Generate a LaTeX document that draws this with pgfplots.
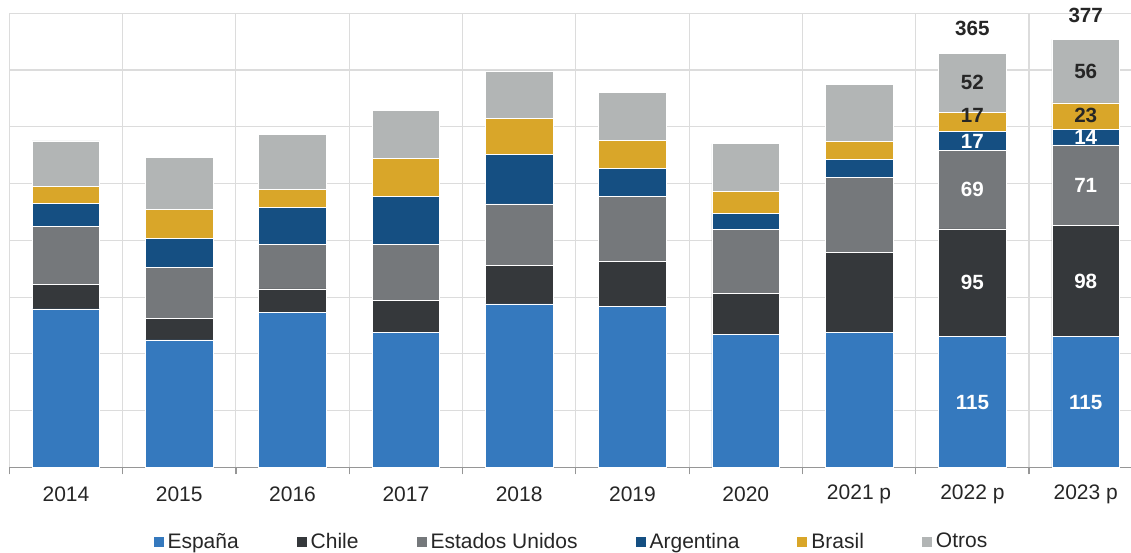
\documentclass[border=0pt]{standalone}
\usepackage{pgfplots}
\pgfplotsset{compat=1.18}
\usepackage{fontspec}
\setmainfont{Liberation Sans}
\definecolor{cEsp}{RGB}{53,121,190}
\definecolor{cChi}{RGB}{53,56,59}
\definecolor{cEEUU}{RGB}{117,120,123}
\definecolor{cArg}{RGB}{21,79,130}
\definecolor{cBra}{RGB}{217,166,41}
\definecolor{cOtr}{RGB}{178,181,181}
\definecolor{gridc}{RGB}{220,220,220}
\definecolor{axc}{RGB}{150,150,150}
\definecolor{txt}{RGB}{38,38,38}
\begin{document}
\begin{tikzpicture}
\pgfplotsset{
  base/.style={
    scale only axis, width=560.85bp, height=227bp,
    xmin=-0.5, xmax=9.4, ymin=0, ymax=400,
  }
}
\begin{axis}[base,
  ybar stacked, bar width=0.597,
  axis x line*=bottom, axis y line*=left,
  y axis line style={draw=none},
  x axis line style={draw=axc, line width=0.6bp},
  /pgf/number format/assume math mode=true,
  ytick={0,50,...,400}, yticklabels={},
  major y tick style={draw=none},
  ymajorgrids, xminorgrids,
  grid style={draw=gridc, line width=0.55bp},
  minor grid style={draw=gridc, line width=0.55bp},
  xtick={0,...,9},
  xticklabels={2014,2015,2016,2017,2018,2019,2020,2021 p,2022 p,2023 p},
  major x tick style={draw=none},
  minor xtick={-0.5,0.5,1.5,2.5,3.5,4.5,5.5,6.5,7.5,8.5},
  minor x tick style={draw=axc, line width=0.6bp},
  minor tick length=3.5bp,
  tick align=outside,
  xticklabel style={font=\fontsize{10.5bp}{12bp}\selectfont, text=txt, anchor=center, yshift=-9.35bp},
  legend style={at={(axis description cs:0.502,-0.1645)}, anchor=center,
    draw=none, fill=none, font=\fontsize{10.5bp}{12bp}\selectfont, text=txt,
    legend columns=6,
    /tikz/every even column/.append style={column sep=27bp}},
  legend image code/.code={\fill[#1,draw=none] (0bp,-2.5bp) rectangle (5bp,2.5bp);},
]
\addplot[fill=cEsp, draw=white, line width=0.3bp] coordinates {(0,139.5)(1,112.2)(2,136.6)(3,118.6)(4,143.9)(5,141.9)(6,116.8)(7,118.9)(8,115)(9,115)};
\addplot[fill=cChi, draw=white, line width=0.3bp] coordinates {(0,21.7)(1,19.3)(2,20.5)(3,28.2)(4,34.3)(5,39.3)(6,36.2)(7,70.2)(8,95)(9,98)};
\addplot[fill=cEEUU, draw=white, line width=0.3bp] coordinates {(0,51.4)(1,44.7)(2,39.0)(3,49.9)(4,53.8)(5,57.6)(6,56.3)(7,66.4)(8,69)(9,71)};
\addplot[fill=cArg, draw=white, line width=0.3bp] coordinates {(0,19.7)(1,25.3)(2,33.2)(3,41.7)(4,44.0)(5,24.9)(6,14.7)(7,15.5)(8,17)(9,14)};
\addplot[fill=cBra, draw=white, line width=0.3bp] coordinates {(0,14.9)(1,25.8)(2,15.6)(3,33.8)(4,31.1)(5,24.1)(6,19.2)(7,15.9)(8,17)(9,23)};
\addplot[fill=cOtr, draw=white, line width=0.3bp] coordinates {(0,40.3)(1,45.8)(2,48.1)(3,42.6)(4,42.1)(5,42.6)(6,41.9)(7,50.5)(8,52)(9,56)};
\legend{España,Chile,Estados Unidos,Argentina,Brasil,Otros}
\end{axis}
\begin{axis}[base, hide axis, clip=false,
  nodes near coords, point meta=explicit symbolic,
  every node near coord/.append style={anchor=center, font=\fontsize{10.3bp}{12bp}\selectfont\bfseries},
]
\addplot[only marks, mark=none, every node near coord/.append style={text=white}] coordinates {
  (8,57.5)[115] (8,162.5)[95] (8,244.5)[69] (8,287.5)[17]
  (9,57.5)[115] (9,164)[98] (9,248.5)[71] (9,291)[14]};
\addplot[only marks, mark=none, every node near coord/.append style={text=txt}] coordinates {
  (8,310.4)[17] (8,339)[52] (9,309.6)[23] (9,349)[56] (8,387)[365] (9,398)[377]};
\end{axis}
\pgfresetboundingbox
\path ([xshift=-4.65bp, yshift=-42.35bp]current axis.south west) rectangle ([yshift=6.65bp]current axis.north east);
\end{tikzpicture}
\end{document}
